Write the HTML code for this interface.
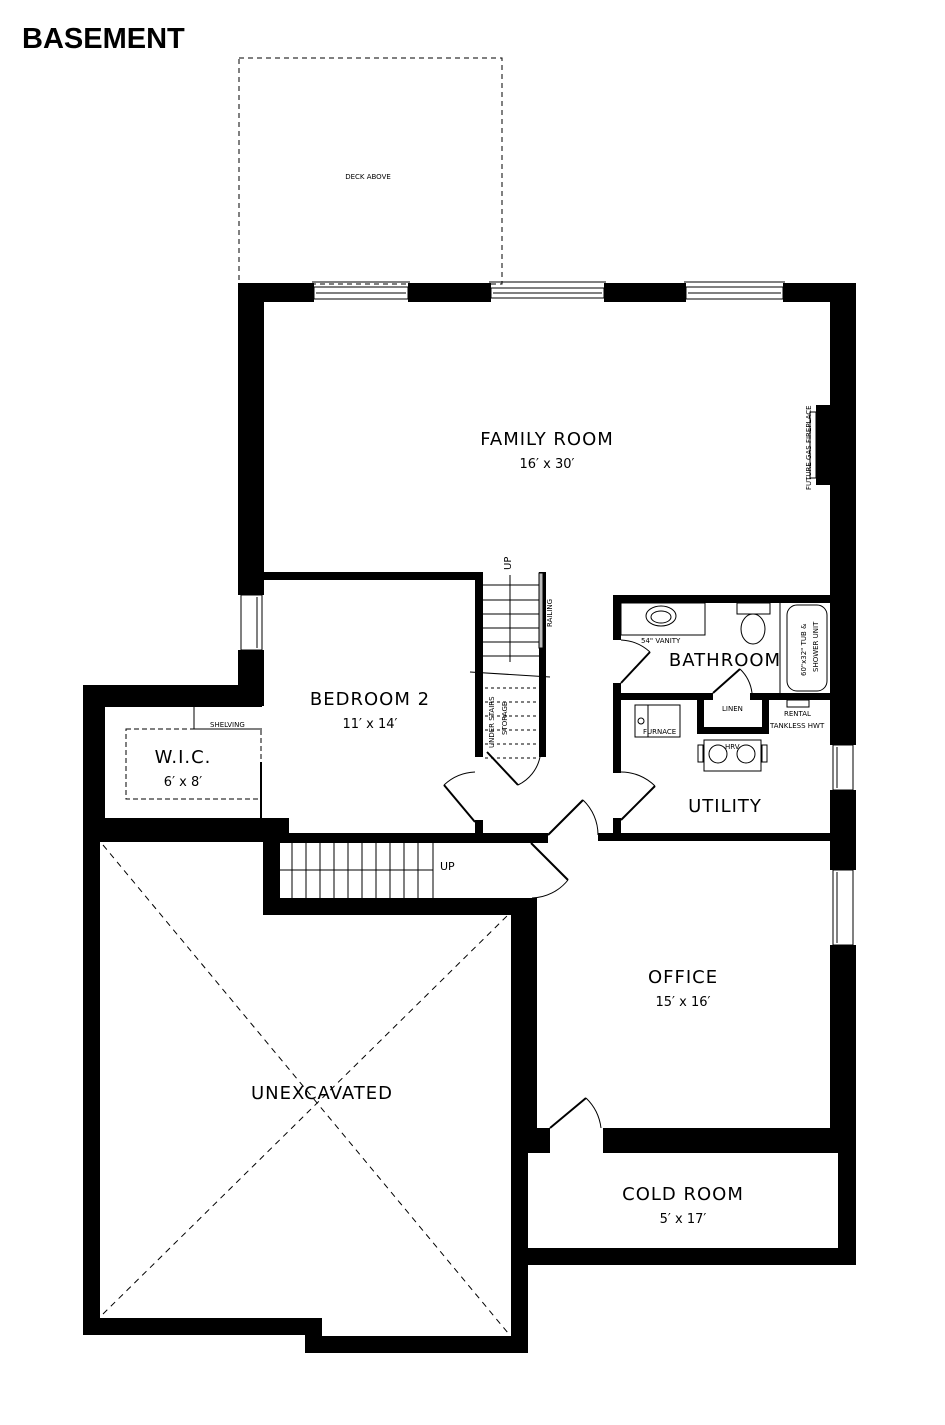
<!DOCTYPE html>
<html><head><meta charset="utf-8"><style>
html,body{margin:0;padding:0;background:#fff;}
svg{display:block}
text{font-family:"DejaVu Sans","Liberation Sans",sans-serif;fill:#000}
</style></head><body>
<svg width="945" height="1425" viewBox="0 0 945 1425" xmlns="http://www.w3.org/2000/svg">
<text x="22" y="48" font-family="Liberation Sans" font-weight="bold" font-size="29" style="font-family:'Liberation Sans',sans-serif">BASEMENT</text>
<!-- deck -->
<rect x="239" y="58" width="263" height="226" fill="none" stroke="#000" stroke-width="1" stroke-dasharray="5,4"/>
<text x="368" y="179" font-size="7" text-anchor="middle">DECK ABOVE</text>
<g fill="#000">
<!-- top wall -->
<rect x="238" y="283" width="76" height="19"/>
<rect x="408" y="283" width="83" height="19"/>
<rect x="604" y="283" width="82" height="19"/>
<rect x="783" y="283" width="73" height="19"/>
<!-- left wall family -->
<rect x="238" y="283" width="26" height="312"/>
<rect x="238" y="650" width="26" height="56"/>
<!-- WIC -->
<rect x="83" y="685" width="179" height="22"/>
<rect x="83" y="685" width="22" height="155"/>
<rect x="83" y="818" width="179" height="24"/>
<rect x="83" y="818" width="17" height="517"/>
<!-- unexcavated bottom -->
<rect x="83" y="1318" width="239" height="17"/>
<rect x="305" y="1318" width="17" height="34"/>
<rect x="305" y="1336" width="223" height="17"/>
<rect x="511" y="898" width="17" height="455"/>
<rect x="511" y="898" width="26" height="255"/>
<!-- stair walls -->
<rect x="262" y="818" width="27" height="24"/>
<rect x="263" y="818" width="17" height="97"/>
<rect x="263" y="898" width="272" height="17"/>
<!-- corridor wall -->
<rect x="263" y="833" width="285" height="10"/>
<rect x="598" y="833" width="232" height="8"/>
<!-- bedroom -->
<rect x="264" y="572" width="219" height="8"/>
<rect x="475" y="572" width="8" height="185"/>
<rect x="475" y="820" width="8" height="15"/>
<rect x="539" y="572" width="7" height="185"/>
<!-- right outer wall -->
<rect x="830" y="283" width="26" height="462"/>
<rect x="830" y="790" width="26" height="80"/>
<rect x="830" y="945" width="26" height="193"/>
<rect x="838" y="1128" width="18" height="137"/>
<!-- cold room -->
<rect x="528" y="1128" width="22" height="25"/>
<rect x="603" y="1128" width="235" height="25"/>
<rect x="528" y="1248" width="328" height="17"/>
<!-- bathroom/utility -->
<rect x="613" y="595" width="217" height="8"/>
<rect x="613" y="595" width="8" height="45"/>
<rect x="613" y="683" width="8" height="17"/>
<rect x="613" y="693" width="100" height="7"/>
<rect x="750" y="693" width="80" height="7"/>
<rect x="613" y="693" width="8" height="80"/>
<rect x="613" y="818" width="8" height="20"/>
<rect x="697" y="693" width="7" height="40"/>
<rect x="762" y="693" width="7" height="40"/>
<rect x="697" y="727" width="72" height="7"/>
<!-- fireplace -->
<rect x="816" y="405" width="14" height="80"/>
</g>
<!-- windows -->
<g fill="#fff" stroke="#000" stroke-width="1">
<rect x="314" y="287" width="94" height="12"/>
<rect x="491" y="288" width="113" height="10"/>
<rect x="686" y="287" width="97" height="12"/>
<rect x="241" y="595" width="21" height="55"/>
<rect x="833" y="745" width="20" height="45"/>
<rect x="833" y="870" width="20" height="75"/>
</g>
<g stroke="#000" stroke-width="1" fill="none">
<line x1="316" y1="293" x2="406" y2="293"/><line x1="688" y1="293" x2="781" y2="293"/>
<line x1="493" y1="293" x2="602" y2="293"/>
<line x1="257" y1="597" x2="257" y2="648"/>
<line x1="837" y1="747" x2="837" y2="788"/><line x1="837" y1="872" x2="837" y2="943"/>
<line x1="312" y1="282" x2="410" y2="282"/><line x1="489" y1="282" x2="606" y2="282"/><line x1="684" y1="282" x2="785" y2="282"/>
<!-- fireplace lines -->
<rect x="810" y="412" width="6" height="66"/>
<!-- family stairs -->
<line x1="483" y1="585" x2="539" y2="585"/><line x1="483" y1="600" x2="539" y2="600"/><line x1="483" y1="614" x2="539" y2="614"/>
<line x1="483" y1="628" x2="539" y2="628"/><line x1="483" y1="642" x2="539" y2="642"/><line x1="483" y1="656" x2="539" y2="656"/>
<line x1="510" y1="575" x2="510" y2="662"/>
<line x1="470" y1="672" x2="550" y2="677"/>
<rect x="539" y="573" width="4" height="75" fill="#bbb"/>
<g stroke-dasharray="3,3"><line x1="485" y1="688" x2="539" y2="688"/><line x1="485" y1="702" x2="539" y2="702"/><line x1="485" y1="716" x2="539" y2="716"/><line x1="485" y1="730" x2="539" y2="730"/><line x1="485" y1="744" x2="539" y2="744"/><line x1="485" y1="758" x2="539" y2="758"/></g>
<!-- lower stairs -->
<line x1="280" y1="870" x2="433" y2="870"/>
<line x1="292" y1="843" x2="292" y2="898"/><line x1="306" y1="843" x2="306" y2="898"/><line x1="320" y1="843" x2="320" y2="898"/>
<line x1="334" y1="843" x2="334" y2="898"/><line x1="348" y1="843" x2="348" y2="898"/><line x1="362" y1="843" x2="362" y2="898"/>
<line x1="376" y1="843" x2="376" y2="898"/><line x1="390" y1="843" x2="390" y2="898"/><line x1="404" y1="843" x2="404" y2="898"/>
<line x1="418" y1="843" x2="418" y2="898"/><line x1="433" y1="843" x2="433" y2="898"/>
<!-- doors -->
<line x1="475" y1="822" x2="444" y2="785" stroke-width="2"/><path d="M444,785 A48,48 0 0 1 475,772"/>
<line x1="487" y1="752" x2="518" y2="785" stroke-width="2"/><path d="M518,785 A40,40 0 0 0 540,757"/>
<line x1="548" y1="835" x2="583" y2="800" stroke-width="2"/><path d="M583,800 A48,48 0 0 1 598,835"/>
<line x1="531" y1="843" x2="568" y2="880" stroke-width="2"/><path d="M568,880 A48,48 0 0 1 532,898"/>
<line x1="621" y1="820" x2="655" y2="786" stroke-width="2"/><path d="M655,786 A48,48 0 0 0 621,772"/>
<line x1="621" y1="683" x2="650" y2="652" stroke-width="2"/><path d="M650,652 A46,46 0 0 0 621,640"/>
<line x1="713" y1="693" x2="740" y2="669" stroke-width="2"/><path d="M740,669 A40,40 0 0 1 752,693"/>
<line x1="550" y1="1128" x2="586" y2="1098" stroke-width="2"/><path d="M586,1098 A50,50 0 0 1 601,1128"/>
<!-- bathroom fixtures -->
<rect x="621" y="603" width="84" height="32"/>
<ellipse cx="661" cy="616" rx="15" ry="10"/><ellipse cx="661" cy="617" rx="10" ry="6"/>
<rect x="737" y="603" width="33" height="11"/><ellipse cx="753" cy="629" rx="12" ry="15"/>
<line x1="780" y1="603" x2="780" y2="693"/>
<rect x="787" y="605" width="40" height="86" rx="10"/>
<!-- utility -->
<rect x="635" y="705" width="45" height="32"/><line x1="648" y1="705" x2="648" y2="737"/><circle cx="641" cy="721" r="3"/>
<rect x="704" y="740" width="57" height="31"/><circle cx="718" cy="754" r="9"/><circle cx="746" cy="754" r="9"/>
<rect x="698" y="745" width="5" height="17"/><rect x="762" y="745" width="5" height="17"/>
<rect x="787" y="700" width="22" height="7"/>
<!-- WIC -->
<rect x="126" y="729" width="135" height="70" stroke-dasharray="5,3"/>
<line x1="194" y1="707" x2="194" y2="729"/><line x1="194" y1="729" x2="262" y2="729"/>
<line x1="261" y1="762" x2="261" y2="818" stroke-width="2"/>
<!-- unexcavated X -->
<g stroke-dasharray="6,5"><line x1="103" y1="845" x2="508" y2="1333"/><line x1="103" y1="1314" x2="508" y2="915"/></g>
</g>
<!-- labels -->
<g font-size="18" text-anchor="middle" style="letter-spacing:1px">
<text x="547" y="445">FAMILY ROOM</text>
<text x="370" y="705">BEDROOM 2</text>
<text x="725" y="666">BATHROOM</text>
<text x="725" y="812">UTILITY</text>
<text x="683" y="983">OFFICE</text>
<text x="322" y="1099">UNEXCAVATED</text>
<text x="683" y="1200">COLD ROOM</text>
<text x="183" y="763">W.I.C.</text>
</g>
<g font-size="13" text-anchor="middle">
<text x="547" y="468">16′ x 30′</text>
<text x="370" y="728">11′ x 14′</text>
<text x="683" y="1006">15′ x 16′</text>
<text x="683" y="1223">5′ x 17′</text>
<text x="183" y="786">6′ x 8′</text>
</g>
<g font-size="7">
<text x="641" y="643">54" VANITY</text>
<text x="722" y="711">LINEN</text>
<text x="784" y="716">RENTAL</text>
<text x="770" y="728">TANKLESS HWT</text>
<text x="643" y="734">FURNACE</text>
<text x="725" y="749">HRV</text>
<text x="210" y="727">SHELVING</text>
<text x="440" y="870" font-size="11">UP</text>
<text transform="translate(511,570) rotate(-90)" font-size="10">UP</text>
<text transform="translate(552,627) rotate(-90)">RAILING</text>
<text transform="translate(811,490) rotate(-90)">FUTURE GAS FIREPLACE</text>
<text transform="translate(806,676) rotate(-90)">60"x32" TUB &amp;</text>
<text transform="translate(818,672) rotate(-90)">SHOWER UNIT</text>
<text transform="translate(494,748) rotate(-90)">UNDER STAIRS</text>
<text transform="translate(507,735) rotate(-90)">STORAGE</text>
</g>
</svg>
</body></html>
